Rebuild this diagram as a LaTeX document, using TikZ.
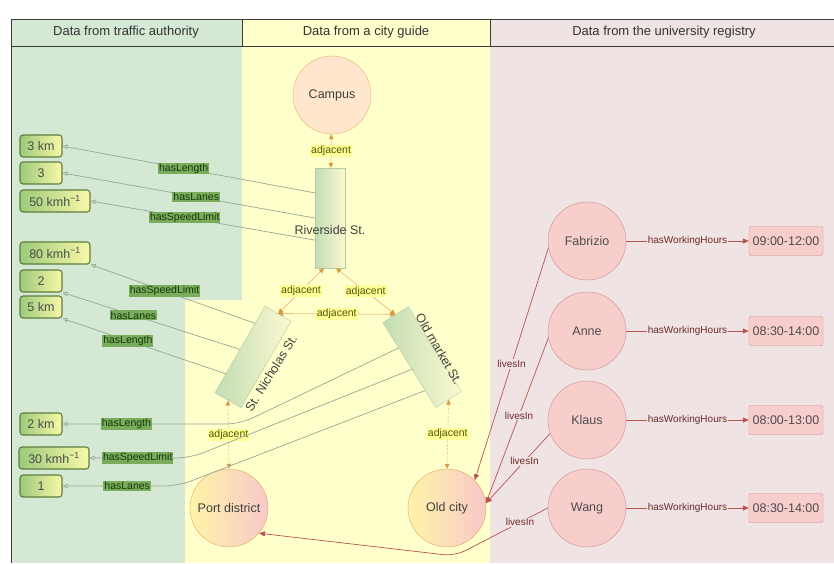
\documentclass[tikz,border=0pt]{standalone}
\usepackage{fontspec}
\setmainfont{Liberation Sans}
\usetikzlibrary{arrows.meta,calc}
\definecolor{bgG}{HTML}{D5E8D4}
\definecolor{bgY}{HTML}{FFFFCC}
\definecolor{bgP}{HTML}{EFE3E3}
\definecolor{hdrLine}{HTML}{3A3A3A}
\definecolor{campFill}{HTML}{FFE6CC}
\definecolor{campLine}{HTML}{E6B070}
\definecolor{placeLine}{HTML}{E0A860}
\definecolor{placeL}{HTML}{FFF4A8}
\definecolor{placeR}{HTML}{F8C8C8}
\definecolor{streetL}{HTML}{C2DDB4}
\definecolor{streetR}{HTML}{FCF8D0}
\definecolor{streetLine}{HTML}{B0CCA0}
\definecolor{valL}{HTML}{9CCB7A}
\definecolor{valR}{HTML}{F8F8A8}
\definecolor{valLine}{HTML}{5E7E3E}
\definecolor{persFill}{HTML}{F8CECC}
\definecolor{persLine}{HTML}{CC8E8C}
\definecolor{redLine}{HTML}{B85450}
\definecolor{redText}{HTML}{6E2A28}
\definecolor{adjLine}{HTML}{F2C27E}
\definecolor{adjHead}{HTML}{D89A40}
\definecolor{adjFill}{HTML}{FFFF99}
\definecolor{adjText}{HTML}{555500}
\definecolor{hasLine}{HTML}{96A894}
\definecolor{hasFill}{HTML}{79AD5C}
\definecolor{hasText}{HTML}{17380C}
\begin{document}
\begin{tikzpicture}[x=1pt,y=-1pt,
  hdr/.style={font=\fontsize{13}{15}\selectfont, text=black!80},
  bigtxt/.style={font=\fontsize{12.5}{14}\selectfont},
  campusnode/.style={circle, minimum size=78pt, inner sep=0pt, draw=campLine, fill=campFill, bigtxt, text=black!75},
  placenode/.style={circle, minimum size=78pt, inner sep=0pt, draw=placeLine, left color=placeL, right color=placeR, bigtxt, text=black!75},
  streetnode/.style={rectangle, minimum width=30pt, minimum height=100pt, inner sep=0pt, draw=streetLine, left color=streetL, right color=streetR},
  streettext/.style={bigtxt, text=black!75},
  valbox/.style={rectangle, rounded corners=3pt, minimum height=22pt, inner sep=1pt, draw=valLine, line width=1.1pt, left color=valL, right color=valR, bigtxt, text=black!70},
  shortval/.style={valbox, minimum width=42pt},
  longval/.style={valbox, minimum width=70pt},
  person/.style={circle, minimum size=78pt, inner sep=0pt, draw=persLine, fill=persFill, bigtxt, text=black!70},
  timebox/.style={rectangle, rounded corners=2pt, minimum width=74pt, minimum height=29pt, inner sep=1pt, draw=persLine, fill=persFill, bigtxt, text=black!70},
  adj/.style={draw=adjLine, line width=0.8pt, {Triangle[length=5pt,width=4.5pt,color=adjHead]}-{Triangle[length=5pt,width=4.5pt,color=adjHead]}},
  adjlbl/.style={sharp corners, fill=adjFill, text=adjText, inner sep=1pt, font=\fontsize{10.5}{12}\selectfont},
  hasedge/.style={draw=hasLine, line width=0.7pt, -{Triangle[open,length=5pt,width=4.5pt]}},
  haslbl/.style={sharp corners, fill=hasFill, text=hasText, inner sep=1pt, font=\fontsize{10.5}{12}\selectfont},
  liveedge/.style={draw=redLine, line width=0.7pt, -{Triangle[length=6pt,width=5pt]}},
  livelbl/.style={sharp corners, fill=bgP, text=redText, inner sep=1pt, font=\fontsize{10}{12}\selectfont},
  workedge/.style={draw=redLine, line width=0.7pt, -{Triangle[length=6pt,width=5pt]}},
  worklbl/.style={sharp corners, fill=bgP, text=redText, inner sep=1pt, font=\fontsize{10}{12}\selectfont},
  hdrrule/.style={draw=hdrLine, line width=1pt}
]
\useasboundingbox (0,0) rectangle (834,563);
\fill[white] (0,0) rectangle (834,563);
% backgrounds
\fill[bgG] (11,19) rectangle (242,563);
\fill[bgY] (242,19) rectangle (490,563);
\fill[bgY] (185,300) rectangle (242,563);
\fill[bgP] (490,19) rectangle (834,563);
% header
\draw[hdrrule] (11,19) -- (834,19);
\draw[hdrrule] (11,46) -- (834,46);
\draw[hdrrule] (242,19) -- (242,46);
\draw[hdrrule] (490,19) -- (490,46);
\draw[hdrrule] (11,19) -- (11,563);
\node[hdr] (h1) at (126,32) {Data from traffic authority};
\node[hdr] (h2) at (366,32) {Data from a city guide};
\node[hdr] (h3) at (664,32) {Data from the university registry};

% city guide nodes
\node[campusnode] (campus) at (332,95) {Campus};
\node[streetnode] (rs) at (330,218) {};
\node[streettext] (rstext) at (330,230) {Riverside St.};
\node[streetnode, rotate=-30] (sn) at (253,357) {};
\node[streettext, rotate=58] (sntext) at (271,373) {St. Nicholas St.};
\node[streetnode, rotate=32] (om) at (422,357) {};
\node[streettext, rotate=-60] (omtext) at (439,349) {Old market St.};
\node[placenode] (pd) at (229,508) {Port district};
\node[placenode] (oc) at (447,508) {Old city};

% value boxes
\node[shortval] (v3km) at (41,146) {3 km};
\node[shortval] (v3) at (41,173) {3};
\node[longval] (v50) at (55,201) {50 kmh\textsuperscript{−1}};
\node[longval] (v80) at (55,253) {80 kmh\textsuperscript{−1}};
\node[shortval] (v2) at (41,281) {2};
\node[shortval] (v5km) at (41,307) {5 km};
\node[shortval] (v2km) at (41,424) {2 km};
\node[longval] (v30) at (54,458) {30 kmh\textsuperscript{−1}};
\node[shortval] (v1) at (41,486) {1};

% persons
\node[person] (fab) at (587,241) {Fabrizio};
\node[person] (anne) at (587,331) {Anne};
\node[person] (klaus) at (587,420) {Klaus};
\node[person] (wang) at (587,508) {Wang};
\node[timebox] (t1) at (786,241) {09:00-12:00};
\node[timebox] (t2) at (786,331) {08:30-14:00};
\node[timebox] (t3) at (786,420) {08:00-13:00};
\node[timebox] (t4) at (786,508) {08:30-14:00};

% adjacent connectors
\draw[adj] (campus) -- node[adjlbl] {adjacent} (rs);
\draw[adj] ($(rs.south)+(-6,0)$) -- node[adjlbl] {adjacent} (sn.north);
\draw[adj] ($(rs.south)+(6,0)$) -- node[adjlbl] {adjacent} (om.north);
\draw[adj] (sn.north) -- node[adjlbl] {adjacent} (om.north);
\draw[adj, dash pattern=on 2pt off 2pt] (sn.south) -- node[adjlbl] {adjacent} (pd.north);
\draw[adj, dash pattern=on 2pt off 2pt] (om.south) -- node[adjlbl] {adjacent} (oc.north);

% traffic authority connectors
\draw[hasedge] ($(rs.north west)!0.25!(rs.south west)$) -- node[haslbl,pos=0.52] {hasLength} (v3km.east);
\draw[hasedge] ($(rs.north west)!0.5!(rs.south west)$) -- node[haslbl,pos=0.47] {hasLanes} (v3.east);
\draw[hasedge] ($(rs.north west)!0.72!(rs.south west)$) -- node[haslbl,pos=0.58] {hasSpeedLimit} (v50.east);

\draw[hasedge] ($(sn.south west)!0.8!(sn.north west)$) -- node[haslbl,pos=0.55] {hasSpeedLimit} (v80.south east);
\draw[hasedge] ($(sn.south west)!0.5!(sn.north west)$) -- node[haslbl,pos=0.6] {hasLanes} (v2.south east);
\draw[hasedge] ($(sn.south west)!0.22!(sn.north west)$) -- node[haslbl,pos=0.6] {hasLength} (v5km.south east);

\coordinate (b1) at (240,424);
\coordinate (b2) at (190,458);
\coordinate (b3) at (178,486);
\draw[hasedge, rounded corners=14pt] ($(om.north west)!0.3!(om.south west)$) -- (b1) -- node[haslbl,pos=0.64] {hasLength} (v2km.east);
\draw[hasedge, rounded corners=14pt] ($(om.north west)!0.55!(om.south west)$) -- (b2) -- node[haslbl,pos=0.52] {hasSpeedLimit} (v30.east);
\draw[hasedge, rounded corners=14pt] ($(om.north west)!0.8!(om.south west)$) -- (b3) -- node[haslbl,pos=0.44] {hasLanes} (v1.east);

% registry connectors
\draw[workedge] (fab) -- node[worklbl] {hasWorkingHours} (t1);
\draw[workedge] (anne) -- node[worklbl] {hasWorkingHours} (t2);
\draw[workedge] (klaus) -- node[worklbl] {hasWorkingHours} (t3);
\draw[workedge] (wang) -- node[worklbl] {hasWorkingHours} (t4);

\draw[liveedge] (fab.190) -- node[livelbl,pos=0.5] {livesIn} (oc.45);
\draw[liveedge] (anne.190) -- node[livelbl,pos=0.47] {livesIn} (oc.7);
\draw[liveedge] (klaus.200) -- node[livelbl,pos=0.4] {livesIn} (oc.7);
\coordinate (w1) at (455,556);
\draw[liveedge, rounded corners=12pt] (wang.west) -- node[livelbl,pos=0.3] {livesIn} (w1) -- (pd.-40);
\end{tikzpicture}
\end{document}
